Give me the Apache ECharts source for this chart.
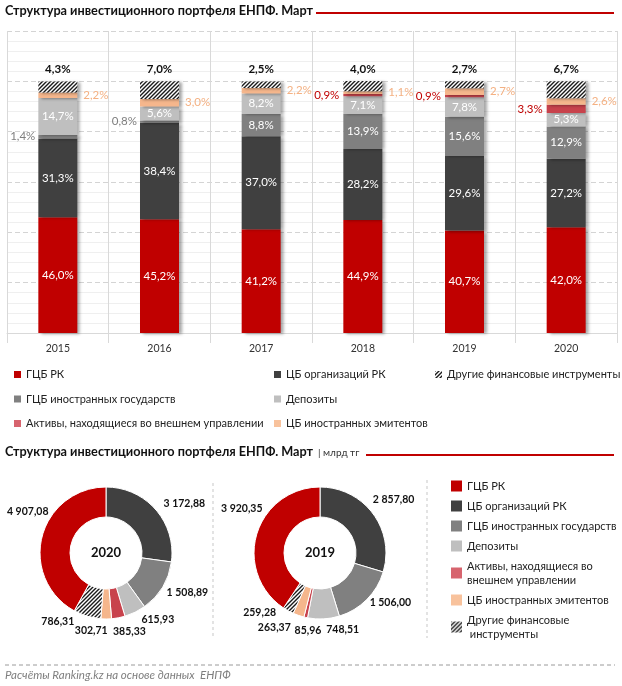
<!DOCTYPE html>
<html><head><meta charset="utf-8">
<script src="https://cdn.jsdelivr.net/npm/echarts@6/dist/echarts.min.js"></script>
<style>html,body{margin:0;padding:0;background:#fff}#c{width:622px;height:686px}</style>
</head><body><div id="c"></div>
<script>
// ---- data ----
const years = ['2015','2016','2017','2018','2019','2020'];
const gcbRK = [46.0,45.2,41.2,44.9,40.7,42.0];
const cbOrgRK = [31.3,38.4,37.0,28.2,29.6,27.2];
const gcbForeign = [1.4,0.8,8.8,13.9,15.6,12.9];
const deposits = [14.7,5.6,8.2,7.1,7.8,5.3];
const extMgmt = [0,0,0,0.9,0.9,3.3];
const cbForeignIssuers = [2.2,3.0,2.2,1.1,2.7,2.6];
const otherInstr = [4.3,7.0,2.5,4.0,2.7,6.7];
const names = ['ГЦБ РК','ЦБ организаций РК','ГЦБ иностранных государств','Депозиты','Активы, находящиеся во внешнем управлении','ЦБ иностранных эмитентов','Другие финансовые инструменты'];
// pie values, млрд тг, same order as names
const pie2020 = [4907.08,3172.88,1508.89,615.93,385.33,302.71,786.31];
const pie2019 = [3920.35,2857.80,1506.00,748.51,85.96,263.37,259.28];

// ---- styles ----
const FONT = 'Lato, "Open Sans", sans-serif';
function hatch(){
  const c=document.createElement('canvas');c.width=4;c.height=4;
  const g=c.getContext('2d');g.fillStyle='#fff';g.fillRect(0,0,4,4);
  g.strokeStyle='#1a1a1a';g.lineWidth=1.4;g.beginPath();
  g.moveTo(-1,5);g.lineTo(5,-1);g.moveTo(-1,1);g.lineTo(1,-1);g.moveTo(3,5);g.lineTo(5,3);g.stroke();
  return {image:c,repeat:'repeat'};
}
const HATCH = hatch();
const colors = ['#C00000','#404040','#808080','#BFBFBF','#C8424C','#F5B68C',HATCH];
const fmtP = v => v.toFixed(1).replace('.',',')+'%';
const fmtN = v => {const s=v.toFixed(2).replace('.',','); const [i,d]=s.split(','); return i.replace(/\B(?=(\d{3})+(?!\d))/g,' ')+','+d;};

const shadow = {shadowColor:'rgba(0,0,0,0.35)',shadowBlur:3,shadowOffsetX:3,shadowOffsetY:1};
function barSeries(idx, arr, labelFn){
  return {
    name: names[idx], type:'bar', stack:'s', barWidth:39,
    itemStyle: Object.assign({color: colors[idx]}, shadow),
    data: arr.map(v => {
      const d = {value:v};
      const l = labelFn(v);
      if (l) d.label = l;
      return d;
    })
  };
}
const LF = 11.5;
const inW = {show:true, position:'inside', color:'#fff', fontSize:LF, formatter:p=>fmtP(p.value)};
const series = [
  barSeries(0,gcbRK,()=>inW),
  barSeries(1,cbOrgRK,()=>inW),
  barSeries(2,gcbForeign,v=> v<2 ? {show:true,position:'left',distance:3,color:'#7F7F7F',fontSize:LF,formatter:p=>fmtP(p.value)} : inW),
  barSeries(3,deposits,()=>inW),
  barSeries(4,extMgmt,v=> v>0 ? {show:true,position:'left',distance:4,color:'#C00000',fontSize:LF,formatter:p=>fmtP(p.value)} : {show:false}),
  barSeries(5,cbForeignIssuers,()=>({show:true,position:'right',distance:6,color:'#F4B183',fontSize:LF,formatter:p=>fmtP(p.value)})),
  barSeries(6,otherInstr,()=>({show:true,position:'top',distance:6,color:'#111',fontSize:LF,fontWeight:'bold',formatter:p=>fmtP(p.value)}))
];

// pie: slice order clockwise from 12 o'clock
const PIE_ORDER=[1,2,3,4,5,6,0];
const PIE_CY=553, PIE_R=[36,66], LABEL_R=88;
// label nudges (style), by slice order
const NUDGE_2020=[[12,8],[6,-6],[13,-12],[7,-8],[-15,-10],[-23,-16],[7,-20]];
const NUDGE_2019=[[3,-1],[8,-12],[18,-11],[7,-8],[-17,-9],[-18,-18],[6,-19]];
function pieSeries(vals, cx, nudge){
  const ordered = PIE_ORDER.map(i=>vals[i]);
  const total = ordered.reduce((a,b)=>a+b,0);
  let acc=0; const mids = ordered.map(v=>{const m=(acc+v/2)/total*2*Math.PI; acc+=v; return m;});
  return {
    type:'pie', radius:PIE_R, center:[cx,PIE_CY], startAngle:90, clockwise:true,
    avoidLabelOverlap:false,
    label:{show:true, position:'outside', color:'#111', fontWeight:'bold', fontSize:10.5, overflow:'none', formatter:p=>fmtN(p.value)},
    labelLine:{show:false, length:4, length2:0},
    labelLayout: p => ({
      x: cx + LABEL_R*Math.sin(mids[p.dataIndex]) + nudge[p.dataIndex][0],
      y: PIE_CY - LABEL_R*Math.cos(mids[p.dataIndex]) + nudge[p.dataIndex][1],
      align:'center', verticalAlign:'middle', hideOverlap:false, moveOverlap:null
    }),
    itemStyle:{borderColor:'#fff', borderWidth:1},
    emphasis:{disabled:true},
    data: PIE_ORDER.map(i=>({name:names[i], value:vals[i], itemStyle:{color:colors[i]}}))
  };
}
series.push(pieSeries(pie2020,106,NUDGE_2020));
series.push(pieSeries(pie2019,320,NUDGE_2019));

const legText = {fontSize:11, color:'#222', fontFamily:FONT};
const legendItem = n => n===names[4] ? {name:n, itemStyle:{color:'#D7646E'}} : n===names[5] ? {name:n,itemStyle:{color:'#F8C29C'}} : n;
const topLeg = (left, list) => ({left, top:363, orient:'vertical', itemGap:11.5, itemWidth:7, itemHeight:7, icon:'rect', textStyle:Object.assign({lineHeight:13},legText), selectedMode:false, data:list.map(legendItem)});

const option = {
  animation:false,
  textStyle:{fontFamily:FONT},
  grid:{left:7, right:5, top:31, bottom:353},
  xAxis:{type:'category', data:years,
    axisLine:{lineStyle:{color:'#D9D9D9'}},
    axisTick:{show:true, length:10, lineStyle:{color:'#D9D9D9'}},
    axisLabel:{color:'#333', fontSize:10.5, margin:10},
    splitLine:{show:true, lineStyle:{color:'#D9D9D9'}}},
  yAxis:{type:'value', min:0, max:120, interval:20, axisLabel:{show:false}, axisLine:{show:false}, axisTick:{show:false},
    splitLine:{lineStyle:{color:'#D4D4D4', type:[5,3]}},
    minorTick:{show:false, splitNumber:5},
    minorSplitLine:{show:true, lineStyle:{color:'#EFEFEF'}}},
  legend:[
    topLeg(9,[names[0],names[2],names[4]]),
    topLeg(269,[names[1],names[3],names[5]]),
    topLeg(430,[names[6]]),
    {left:446, top:474, orient:'vertical', itemGap:6, itemWidth:11, itemHeight:11, icon:'rect', selectedMode:false,
     textStyle:Object.assign({}, legText, {lineHeight:14, fontSize:11}),
     formatter: n => n===names[4] ? 'Активы, находящиеся во\nвнешнем управлении' : n===names[6] ? 'Другие финансовые\n инструменты' : n,
     data:names.map(legendItem)}
  ],
  graphic:[
    {type:'text', left:5, top:4, style:{text:'Структура инвестиционного портфеля ЕНПФ. Март', font:'bold 12.7px '+FONT, fill:'#111'}},
    {type:'rect', shape:{x:316,y:12,width:298,height:2}, style:{fill:'#C00000'}},
    {type:'text', left:5, top:445, style:{text:'Структура инвестиционного портфеля ЕНПФ. Март', font:'bold 12.7px '+FONT, fill:'#111'}},
    {type:'text', left:318, top:448, style:{text:'| млрд тг', font:'10px '+FONT, fill:'#333'}},
    {type:'rect', shape:{x:366,y:454,width:248,height:2}, style:{fill:'#C00000'}},
    {type:'line', shape:{x1:213,y1:483,x2:213,y2:636}, style:{stroke:'#C8C8C8', lineDash:[3,3], lineWidth:1}},
    {type:'line', shape:{x1:427,y1:480,x2:427,y2:638}, style:{stroke:'#C8C8C8', lineDash:[3,3], lineWidth:1}},
    {type:'line', shape:{x1:5,y1:665,x2:615,y2:665}, style:{stroke:'#9A9A9A', lineDash:[4,3], lineWidth:1}},
    {type:'text', left:5, top:669, style:{text:'Расчёты Ranking.kz на основе данных  ЕНПФ', font:'italic 11.5px '+FONT, fill:'#7F7F7F'}},
    {type:'text', x:106, y:553, style:{text:'2020', font:'bold 13px '+FONT, fill:'#111', align:'center', verticalAlign:'middle'}},
    {type:'text', x:320, y:553, style:{text:'2019', font:'bold 13px '+FONT, fill:'#111', align:'center', verticalAlign:'middle'}}
  ],
  series
};
const chart = echarts.init(document.getElementById('c'));
chart.setOption(option);
</script></body></html>
